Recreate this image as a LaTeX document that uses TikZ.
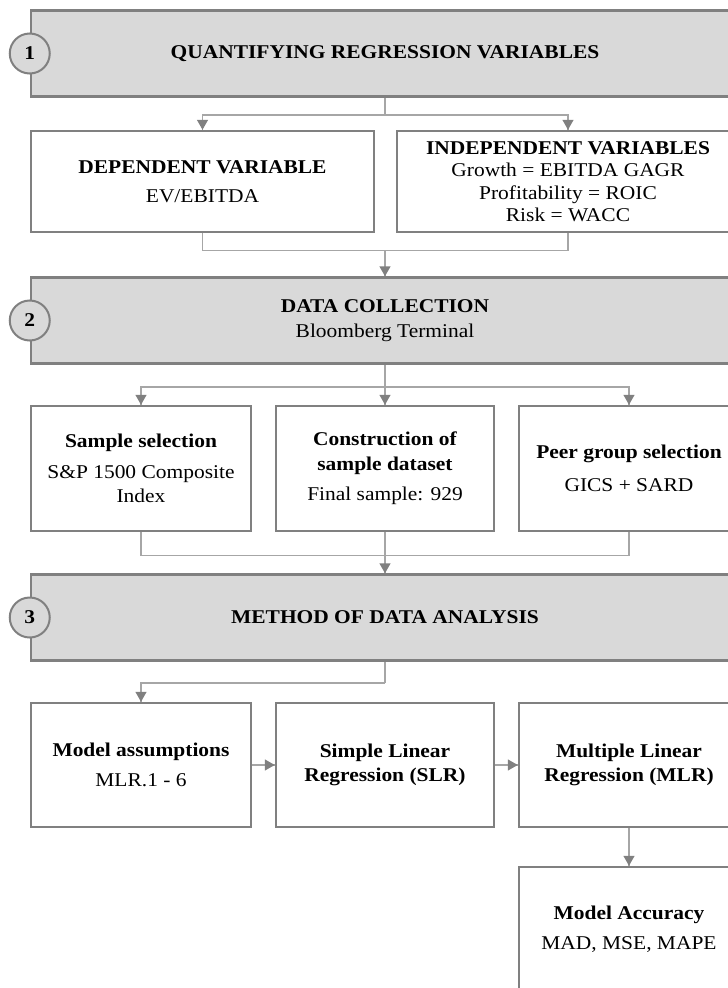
\documentclass[tikz,border=0pt]{standalone}
\usepackage{fontspec}
\setmainfont{Liberation Serif}[FakeStretch=1.1]
\usetikzlibrary{arrows.meta,decorations.markings,positioning}
\definecolor{bordergray}{HTML}{808080}
\definecolor{bannerfill}{HTML}{D9D9D9}
\definecolor{linegray}{HTML}{A6A6A6}
\tikzset{
    txt/.style={font=\fontsize{19.5}{22.5}\selectfont},
    banner/.style={draw=bordergray,line width=2.5pt,fill=bannerfill,minimum width=708pt,minimum height=86pt,align=center,inner sep=0pt,txt},
    stepcirc/.style={circle,draw=bordergray,line width=2pt,fill=bannerfill,minimum size=40pt,inner sep=0pt,font=\fontsize{19.5}{22}\selectfont\bfseries},
    recwht/.style={draw=bordergray,line width=2.5pt,fill=white,align=center,inner sep=0pt,txt},
    conn/.style={draw=linegray,line width=1.5pt},
    arrowfwd/.style={decoration={markings,mark=at position 1 with {\arrow[color=bordergray]{Triangle[width=11pt,length=10pt]}}},postaction={decorate}}
}
\begin{document}
\begin{tikzpicture}[x=1pt,y=-1pt]
        \useasboundingbox (0,0) rectangle (728,988);

        % Step 1: regression variables
        \node[banner] (banA) at (385,53.5) {\textbf{QUANTIFYING REGRESSION VARIABLES}};
        \node[stepcirc] (numA) at (banA.west) {1};
        \node[recwht,minimum width=343pt,minimum height=101pt] (depvar) at (202.5,181.5) {\textbf{DEPENDENT VARIABLE}\\[7pt]EV/EBITDA};
        \node[recwht,minimum width=342pt,minimum height=101pt] (indepvar) at (568,181.5) {\textbf{INDEPENDENT VARIABLES}\\Growth = EBITDA GAGR\\Profitability = ROIC\\Risk = WACC};
        \path (banA.south) ++(0,17) coordinate (jA);
        \draw[conn] (banA.south) -- (jA);
        \draw[conn,arrowfwd] (jA) -| (depvar.north);
        \draw[conn,arrowfwd] (jA) -| (indepvar.north);

        % Step 2: data collection
        \node[banner] (banB) at (385,320.5) {\textbf{DATA COLLECTION}\\[2pt]Bloomberg Terminal};
        \node[stepcirc] (numB) at (banB.west) {2};
        \path (depvar.south) ++(0,17) coordinate (jB);
        \draw[conn] (depvar.south) -- (jB) -| (indepvar.south);
        \draw[conn,arrowfwd] (jB -| banB.north) -- (banB.north);

        \node[recwht,minimum width=220pt,minimum height=125pt] (sample) at (141,468.5) {\textbf{Sample selection}\\[8pt]S\&P 1500 Composite\\[2pt]Index};
        \node[recwht,minimum width=218pt,minimum height=125pt] (build) at (385,468.5) {\textbf{Construction of}\\[2pt]\textbf{sample dataset}\\[8pt]Final sample: 929};
        \node[recwht,minimum width=220pt,minimum height=125pt] (peer) at (629,468.5) {\textbf{Peer group selection}\\[10pt]GICS + SARD};
        \path (banB.south) ++(0,22) coordinate (jC);
        \draw[conn] (banB.south) -- (jC);
        \draw[conn,arrowfwd] (jC) -| (sample.north);
        \draw[conn,arrowfwd] (jC) -- (build.north);
        \draw[conn,arrowfwd] (jC) -| (peer.north);

        % Step 3: data analysis
        \node[banner] (banC) at (385,617.5) {\textbf{METHOD OF DATA ANALYSIS}};
        \node[stepcirc] (numC) at (banC.west) {3};
        \path (sample.south) ++(0,23) coordinate (jD);
        \draw[conn] (sample.south) -- (jD) -| (peer.south);
        \draw[conn,arrowfwd] (build.south) -- (banC.north);

        \node[recwht,minimum width=220pt,minimum height=124pt] (assume) at (141,765) {\textbf{Model assumptions}\\[8pt]MLR.1 - 6};
        \node[recwht,minimum width=218pt,minimum height=124pt] (slr) at (385,765) {\textbf{Simple Linear}\\[2pt]\textbf{Regression (SLR)}};
        \node[recwht,minimum width=220pt,minimum height=124pt] (mlr) at (629,765) {\textbf{Multiple Linear}\\[2pt]\textbf{Regression (MLR)}};
        \node[recwht,minimum width=220pt,minimum height=124pt] (accuracy) at (629,929) {\textbf{Model Accuracy}\\[8pt]MAD, MSE, MAPE};
        \path (banC.south) ++(0,21) coordinate (jE);
        \draw[conn] (banC.south) -- (jE);
        \draw[conn,arrowfwd] (jE) -| (assume.north);
        \draw[conn,arrowfwd] (assume.east) -- (slr.west);
        \draw[conn,arrowfwd] (slr.east) -- (mlr.west);
        \draw[conn,arrowfwd] (mlr.south) -- (accuracy.north);
\end{tikzpicture}
\end{document}
